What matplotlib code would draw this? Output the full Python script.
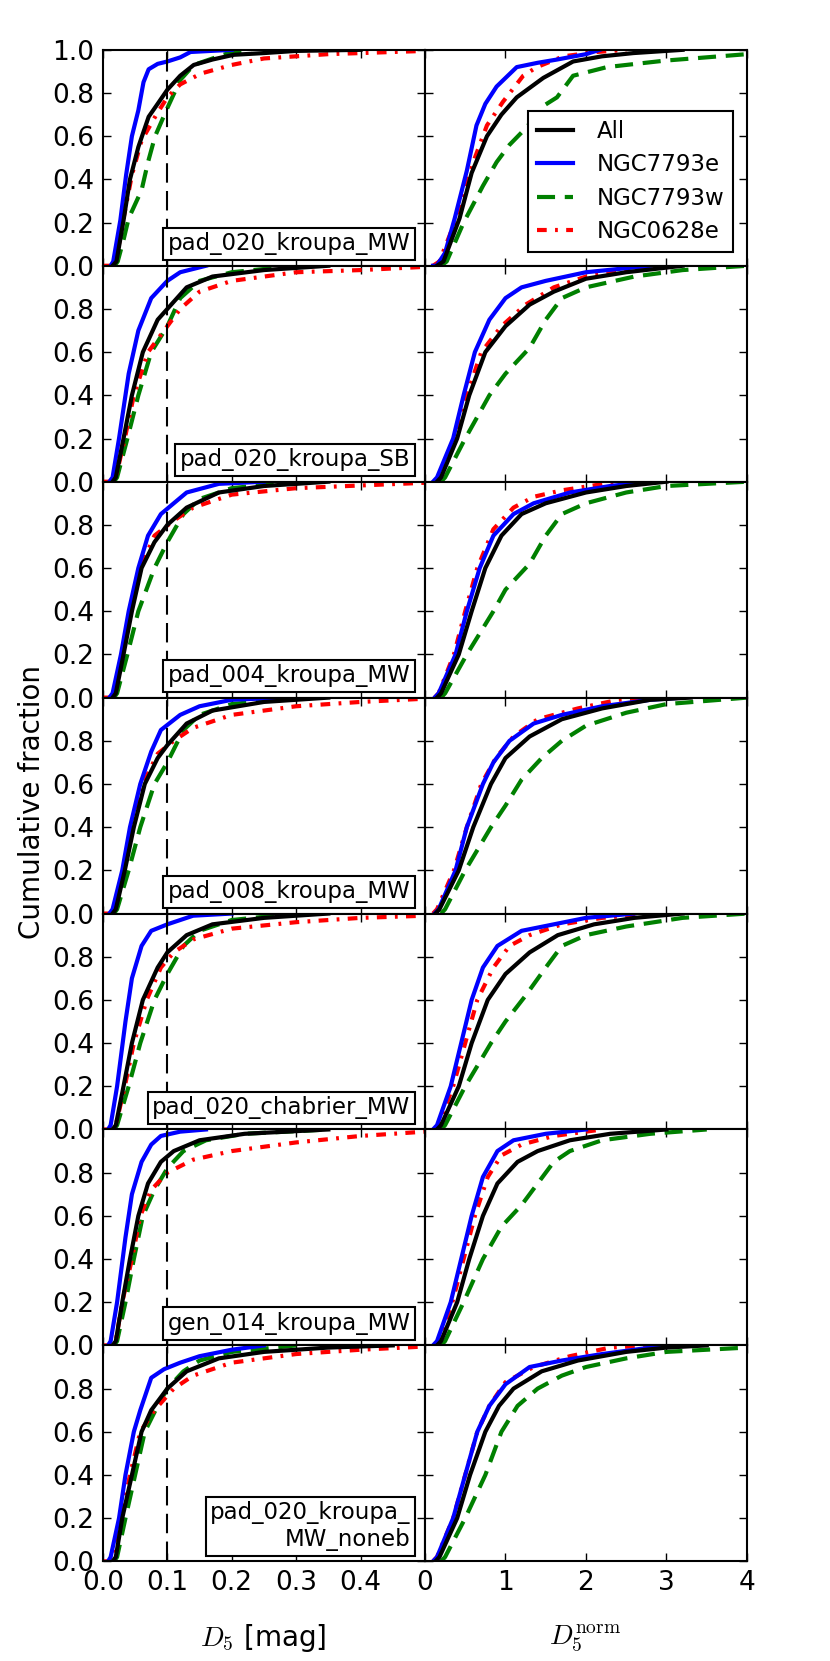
import matplotlib
matplotlib.use('Agg')
import matplotlib.pyplot as plt

plt.rcParams['mathtext.fontset'] = 'cm'
plt.rcParams['lines.scale_dashes'] = False
plt.rcParams['font.family'] = ['DejaVu Sans']

#%% data: each curve as (x, cumulative fraction)
models = ['pad_020_kroupa_MW', 'pad_020_kroupa_SB', 'pad_004_kroupa_MW',
          'pad_008_kroupa_MW', 'pad_020_chabrier_MW', 'gen_014_kroupa_MW',
          'pad_020_kroupa_\nMW_noneb']
series = ['All', 'NGC7793e', 'NGC7793w', 'NGC0628e']

# pad_020_kroupa_MW
p1_d5 = {
    'All': ([0.015, 0.021, 0.032, 0.042, 0.055, 0.071, 0.085, 0.1, 0.12, 0.141, 0.17, 0.203, 0.25, 0.3, 0.4],
            [0, 0.02, 0.21, 0.40, 0.55, 0.69, 0.75, 0.815, 0.88, 0.93, 0.955, 0.977, 0.985, 0.995, 1.0]),
    'NGC7793e': ([0.012, 0.016, 0.027, 0.036, 0.045, 0.055, 0.063, 0.071, 0.085, 0.1, 0.12, 0.136, 0.2],
                 [0, 0.02, 0.21, 0.42, 0.60, 0.72, 0.85, 0.91, 0.935, 0.946, 0.965, 0.99, 1.0]),
    'NGC7793w': ([0.018, 0.023, 0.032, 0.040, 0.060, 0.070, 0.081, 0.1, 0.12, 0.141, 0.18, 0.2, 0.23],
                 [0, 0.02, 0.12, 0.22, 0.35, 0.48, 0.60, 0.73, 0.86, 0.93, 0.97, 0.99, 1.0]),
    'NGC0628e': ([0.0, 0.015, 0.022, 0.032, 0.045, 0.06, 0.083, 0.1, 0.12, 0.152, 0.2, 0.25, 0.35, 0.45, 0.5],
                 [0, 0, 0.05, 0.22, 0.42, 0.58, 0.70, 0.78, 0.84, 0.89, 0.93, 0.96, 0.98, 0.99, 0.995]),
}
p1_norm = {
    'All': ([0.15, 0.23, 0.43, 0.58, 0.77, 0.95, 1.14, 1.47, 1.84, 2.2, 2.59, 3.2],
            [0, 0.02, 0.22, 0.43, 0.60, 0.70, 0.78, 0.87, 0.946, 0.97, 0.985, 1.0]),
    'NGC7793e': ([0.1, 0.145, 0.25, 0.37, 0.52, 0.64, 0.75, 0.89, 1.14, 1.4, 1.64, 2.0, 2.17],
                 [0, 0, 0.06, 0.22, 0.44, 0.65, 0.75, 0.83, 0.92, 0.94, 0.955, 0.98, 1.0]),
    'NGC7793w': ([0.2, 0.27, 0.48, 0.72, 0.89, 1.05, 1.26, 1.47, 1.64, 1.84, 2.26, 2.98, 4.0],
                 [0, 0.02, 0.20, 0.37, 0.48, 0.56, 0.64, 0.74, 0.78, 0.88, 0.92, 0.95, 0.98]),
    'NGC0628e': ([0.1, 0.18, 0.39, 0.62, 0.77, 0.97, 1.22, 1.39, 1.72, 2.13, 2.5],
                 [0, 0.02, 0.22, 0.50, 0.65, 0.76, 0.88, 0.92, 0.97, 0.99, 1.0]),
}

# pad_020_kroupa_SB
p2_d5 = {
    'All': ([0.015, 0.02, 0.032, 0.045, 0.062, 0.085, 0.1, 0.13, 0.17, 0.25, 0.35],
            [0, 0.02, 0.2, 0.4, 0.6, 0.75, 0.8, 0.9, 0.95, 0.98, 1.0]),
    'NGC7793e': ([0.01, 0.015, 0.025, 0.04, 0.055, 0.075, 0.1, 0.12, 0.16],
                 [0, 0.02, 0.2, 0.5, 0.7, 0.85, 0.93, 0.97, 1.0]),
    'NGC7793w': ([0.017, 0.022, 0.038, 0.055, 0.075, 0.1, 0.12, 0.15, 0.2, 0.3],
                 [0, 0.02, 0.2, 0.4, 0.6, 0.72, 0.85, 0.93, 0.97, 1.0]),
    'NGC0628e': ([0.0, 0.015, 0.02, 0.034, 0.048, 0.07, 0.1, 0.12, 0.15, 0.2, 0.3, 0.4, 0.5],
                 [0, 0, 0.02, 0.2, 0.4, 0.6, 0.72, 0.8, 0.88, 0.93, 0.97, 0.98, 0.995]),
}
p2_norm = {
    'All': ([0.15, 0.2, 0.4, 0.55, 0.75, 1.0, 1.3, 1.6, 2.0, 2.5, 3.2],
            [0, 0.02, 0.2, 0.4, 0.6, 0.72, 0.82, 0.88, 0.94, 0.97, 1.0]),
    'NGC7793e': ([0.1, 0.15, 0.35, 0.48, 0.62, 0.8, 1.0, 1.2, 1.5, 2.0, 2.8],
                 [0, 0.02, 0.2, 0.4, 0.6, 0.75, 0.85, 0.9, 0.93, 0.97, 1.0]),
    'NGC7793w': ([0.2, 0.25, 0.5, 0.8, 1.0, 1.3, 1.5, 1.7, 2.0, 2.6, 3.2, 4.0],
                 [0, 0.02, 0.2, 0.4, 0.5, 0.62, 0.75, 0.85, 0.9, 0.95, 0.98, 1.0]),
    'NGC0628e': ([0.12, 0.18, 0.38, 0.52, 0.7, 0.95, 1.25, 1.6, 2.0, 2.8],
                 [0, 0.02, 0.2, 0.4, 0.6, 0.72, 0.82, 0.9, 0.95, 1.0]),
}

# pad_004_kroupa_MW
p3_d5 = {
    'All': ([0.015, 0.02, 0.032, 0.045, 0.06, 0.08, 0.1, 0.13, 0.18, 0.25, 0.35],
            [0, 0.02, 0.2, 0.4, 0.6, 0.72, 0.8, 0.88, 0.95, 0.98, 1.0]),
    'NGC7793e': ([0.01, 0.015, 0.028, 0.04, 0.055, 0.07, 0.09, 0.11, 0.13, 0.18, 0.25],
                 [0, 0.02, 0.2, 0.4, 0.6, 0.75, 0.85, 0.9, 0.95, 0.99, 1.0]),
    'NGC7793w': ([0.017, 0.022, 0.038, 0.055, 0.08, 0.1, 0.125, 0.15, 0.2, 0.3],
                 [0, 0.02, 0.2, 0.4, 0.6, 0.72, 0.85, 0.92, 0.97, 1.0]),
    'NGC0628e': ([0.0, 0.013, 0.018, 0.03, 0.042, 0.058, 0.08, 0.11, 0.14, 0.2, 0.3, 0.5],
                 [0, 0, 0.02, 0.2, 0.4, 0.6, 0.75, 0.82, 0.88, 0.94, 0.97, 0.995]),
}
p3_norm = {
    'All': ([0.15, 0.2, 0.42, 0.58, 0.75, 0.95, 1.2, 1.5, 2.0, 2.5, 3.0],
            [0, 0.02, 0.2, 0.4, 0.6, 0.75, 0.85, 0.9, 0.95, 0.98, 1.0]),
    'NGC7793e': ([0.12, 0.17, 0.38, 0.52, 0.68, 0.85, 1.1, 1.35, 1.8, 2.3, 2.8],
                 [0, 0.02, 0.2, 0.4, 0.6, 0.75, 0.85, 0.9, 0.95, 0.98, 1.0]),
    'NGC7793w': ([0.2, 0.25, 0.52, 0.85, 1.0, 1.3, 1.5, 1.7, 2.0, 2.5, 3.0, 4.0],
                 [0, 0.02, 0.2, 0.4, 0.5, 0.62, 0.75, 0.85, 0.9, 0.95, 0.98, 1.0]),
    'NGC0628e': ([0.12, 0.17, 0.36, 0.5, 0.65, 0.85, 1.1, 1.35, 1.7, 2.4],
                 [0, 0.02, 0.2, 0.4, 0.6, 0.78, 0.88, 0.93, 0.96, 1.0]),
}

# pad_008_kroupa_MW
p4_d5 = {
    'All': ([0.015, 0.02, 0.034, 0.048, 0.065, 0.085, 0.1, 0.13, 0.17, 0.25, 0.35],
            [0, 0.02, 0.2, 0.4, 0.6, 0.72, 0.78, 0.88, 0.94, 0.98, 1.0]),
    'NGC7793e': ([0.01, 0.015, 0.03, 0.042, 0.058, 0.075, 0.09, 0.12, 0.15, 0.2, 0.28],
                 [0, 0.02, 0.2, 0.4, 0.6, 0.75, 0.85, 0.92, 0.96, 0.99, 1.0]),
    'NGC7793w': ([0.017, 0.022, 0.04, 0.058, 0.08, 0.1, 0.125, 0.15, 0.2, 0.3],
                 [0, 0.02, 0.2, 0.4, 0.6, 0.7, 0.85, 0.92, 0.97, 1.0]),
    'NGC0628e': ([0.0, 0.013, 0.018, 0.032, 0.045, 0.062, 0.085, 0.11, 0.14, 0.2, 0.3, 0.4, 0.5],
                 [0, 0, 0.02, 0.2, 0.4, 0.6, 0.74, 0.8, 0.86, 0.92, 0.96, 0.98, 0.995]),
}
p4_norm = {
    'All': ([0.13, 0.18, 0.42, 0.6, 0.82, 1.0, 1.3, 1.7, 2.2, 2.8, 3.3],
            [0, 0.02, 0.2, 0.4, 0.6, 0.72, 0.82, 0.9, 0.95, 0.99, 1.0]),
    'NGC7793e': ([0.12, 0.17, 0.38, 0.52, 0.72, 0.85, 1.05, 1.35, 1.7, 2.2, 2.8, 3.2],
                 [0, 0.02, 0.2, 0.4, 0.6, 0.7, 0.8, 0.88, 0.92, 0.96, 0.99, 1.0]),
    'NGC7793w': ([0.2, 0.25, 0.5, 0.82, 1.0, 1.2, 1.45, 1.7, 2.0, 2.5, 3.0, 4.0],
                 [0, 0.02, 0.2, 0.4, 0.5, 0.62, 0.72, 0.8, 0.87, 0.93, 0.97, 1.0]),
    'NGC0628e': ([0.1, 0.15, 0.36, 0.52, 0.7, 0.88, 1.1, 1.4, 1.9, 2.4, 2.8],
                 [0, 0.02, 0.2, 0.4, 0.6, 0.72, 0.82, 0.9, 0.95, 0.99, 1.0]),
}

# pad_020_chabrier_MW
p5_d5 = {
    'All': ([0.015, 0.02, 0.032, 0.045, 0.062, 0.085, 0.1, 0.13, 0.17, 0.25, 0.35],
            [0, 0.02, 0.2, 0.4, 0.6, 0.75, 0.82, 0.9, 0.95, 0.98, 1.0]),
    'NGC7793e': ([0.008, 0.012, 0.022, 0.035, 0.045, 0.06, 0.075, 0.1, 0.14, 0.2],
                 [0, 0.02, 0.2, 0.5, 0.7, 0.85, 0.92, 0.95, 0.99, 1.0]),
    'NGC7793w': ([0.017, 0.022, 0.04, 0.058, 0.08, 0.1, 0.125, 0.15, 0.2, 0.3],
                 [0, 0.02, 0.2, 0.4, 0.6, 0.72, 0.85, 0.92, 0.97, 1.0]),
    'NGC0628e': ([0.0, 0.015, 0.02, 0.034, 0.048, 0.068, 0.09, 0.11, 0.14, 0.2, 0.3, 0.4, 0.5],
                 [0, 0, 0.02, 0.2, 0.4, 0.6, 0.75, 0.82, 0.88, 0.93, 0.96, 0.98, 0.99]),
}
p5_norm = {
    'All': ([0.15, 0.2, 0.42, 0.58, 0.78, 1.0, 1.3, 1.65, 2.1, 2.6, 3.2],
            [0, 0.02, 0.2, 0.4, 0.6, 0.72, 0.82, 0.9, 0.95, 0.98, 1.0]),
    'NGC7793e': ([0.1, 0.15, 0.32, 0.45, 0.58, 0.72, 0.9, 1.2, 1.6, 2.0, 2.6],
                 [0, 0.02, 0.2, 0.4, 0.6, 0.75, 0.85, 0.92, 0.95, 0.98, 1.0]),
    'NGC7793w': ([0.2, 0.25, 0.5, 0.82, 1.0, 1.25, 1.5, 1.7, 2.0, 2.5, 3.2, 4.0],
                 [0, 0.02, 0.2, 0.4, 0.5, 0.62, 0.75, 0.85, 0.9, 0.94, 0.98, 1.0]),
    'NGC0628e': ([0.12, 0.17, 0.35, 0.5, 0.65, 0.85, 1.05, 1.3, 1.7, 2.2, 2.8],
                 [0, 0.02, 0.2, 0.4, 0.6, 0.75, 0.85, 0.9, 0.95, 0.98, 1.0]),
}

# gen_014_kroupa_MW
p6_d5 = {
    'All': ([0.015, 0.02, 0.03, 0.042, 0.055, 0.07, 0.09, 0.11, 0.15, 0.22, 0.35],
            [0, 0.02, 0.2, 0.4, 0.6, 0.75, 0.85, 0.9, 0.95, 0.98, 1.0]),
    'NGC7793e': ([0.008, 0.012, 0.022, 0.035, 0.045, 0.06, 0.075, 0.09, 0.12, 0.16],
                 [0, 0.02, 0.2, 0.5, 0.7, 0.85, 0.93, 0.97, 0.99, 1.0]),
    'NGC7793w': ([0.017, 0.022, 0.035, 0.048, 0.062, 0.08, 0.1, 0.125, 0.16, 0.22, 0.35],
                 [0, 0.02, 0.2, 0.4, 0.6, 0.72, 0.82, 0.9, 0.95, 0.98, 1.0]),
    'NGC0628e': ([0.0, 0.015, 0.02, 0.03, 0.045, 0.058, 0.075, 0.1, 0.14, 0.2, 0.3, 0.4, 0.5],
                 [0, 0, 0.02, 0.2, 0.4, 0.6, 0.72, 0.8, 0.86, 0.9, 0.94, 0.97, 0.99]),
}
p6_norm = {
    'All': ([0.15, 0.2, 0.4, 0.55, 0.72, 0.9, 1.15, 1.4, 1.8, 2.3, 3.0],
            [0, 0.02, 0.2, 0.4, 0.6, 0.75, 0.85, 0.9, 0.95, 0.98, 1.0]),
    'NGC7793e': ([0.1, 0.15, 0.32, 0.45, 0.58, 0.72, 0.9, 1.1, 1.5, 2.0],
                 [0, 0.02, 0.2, 0.4, 0.6, 0.78, 0.9, 0.95, 0.98, 1.0]),
    'NGC7793w': ([0.2, 0.25, 0.48, 0.72, 0.95, 1.2, 1.4, 1.6, 1.8, 2.2, 2.8, 3.5],
                 [0, 0.02, 0.2, 0.4, 0.55, 0.65, 0.75, 0.85, 0.9, 0.95, 0.98, 1.0]),
    'NGC0628e': ([0.12, 0.17, 0.34, 0.48, 0.62, 0.78, 0.95, 1.2, 1.6, 2.2],
                 [0, 0.02, 0.2, 0.4, 0.6, 0.78, 0.88, 0.93, 0.97, 1.0]),
}

# pad_020_kroupa_MW_noneb
p7_d5 = {
    'All': ([0.015, 0.02, 0.03, 0.045, 0.06, 0.075, 0.1, 0.13, 0.18, 0.25, 0.35, 0.45],
            [0, 0.02, 0.2, 0.4, 0.6, 0.7, 0.8, 0.88, 0.94, 0.97, 0.99, 1.0]),
    'NGC7793e': ([0.008, 0.012, 0.025, 0.035, 0.048, 0.058, 0.075, 0.095, 0.12, 0.15, 0.2, 0.25],
                 [0, 0.02, 0.2, 0.4, 0.6, 0.7, 0.85, 0.89, 0.92, 0.95, 0.98, 1.0]),
    'NGC7793w': ([0.017, 0.022, 0.035, 0.05, 0.065, 0.085, 0.1, 0.125, 0.15, 0.2, 0.3],
                 [0, 0.02, 0.2, 0.4, 0.6, 0.72, 0.8, 0.88, 0.93, 0.97, 1.0]),
    'NGC0628e': ([0.0, 0.013, 0.018, 0.028, 0.042, 0.058, 0.08, 0.11, 0.14, 0.2, 0.3, 0.4, 0.5],
                 [0, 0, 0.02, 0.2, 0.4, 0.6, 0.7, 0.8, 0.86, 0.92, 0.96, 0.98, 0.995]),
}
p7_norm = {
    'All': ([0.13, 0.18, 0.4, 0.56, 0.75, 0.92, 1.1, 1.45, 1.9, 2.5, 3.0, 3.5],
            [0, 0.02, 0.2, 0.4, 0.6, 0.72, 0.8, 0.88, 0.93, 0.97, 0.99, 1.0]),
    'NGC7793e': ([0.1, 0.15, 0.35, 0.5, 0.65, 0.8, 1.0, 1.3, 1.7, 2.2, 2.8, 3.2],
                 [0, 0.02, 0.2, 0.4, 0.6, 0.72, 0.82, 0.9, 0.93, 0.96, 0.99, 1.0]),
    'NGC7793w': ([0.2, 0.25, 0.5, 0.75, 0.95, 1.15, 1.4, 1.7, 2.0, 2.5, 3.0, 4.0],
                 [0, 0.02, 0.2, 0.4, 0.6, 0.72, 0.8, 0.86, 0.9, 0.94, 0.97, 0.99]),
    'NGC0628e': ([0.1, 0.15, 0.35, 0.5, 0.65, 0.8, 1.0, 1.35, 1.8, 2.3, 2.8],
                 [0, 0.02, 0.2, 0.4, 0.6, 0.72, 0.83, 0.9, 0.95, 0.99, 1.0]),
}

d5_panels = [p1_d5, p2_d5, p3_d5, p4_d5, p5_d5, p6_d5, p7_d5]
norm_panels = [p1_norm, p2_norm, p3_norm, p4_norm, p5_norm, p6_norm, p7_norm]

d5_cut = 0.1
d5_ticks = [0.0, 0.1, 0.2, 0.3, 0.4]
norm_ticks = [0, 1, 2, 3, 4]

#%% styles
styles = {
    'All':      dict(color='k', ls='-'),
    'NGC7793e': dict(color='b', ls='-'),
    'NGC7793w': dict(color='g', dashes=(13, 7)),
    'NGC0628e': dict(color='r', dashes=(7, 6, 2, 6)),
}
draw_order = ['NGC7793w', 'NGC0628e', 'NGC7793e', 'All']

fig, axes = plt.subplots(7, 2, figsize=(8.3, 16.61), dpi=100)
fig.subplots_adjust(left=0.124, right=0.9, top=0.970, bottom=0.060, wspace=0, hspace=0)

for i in range(7):
    for j, panels in enumerate([d5_panels, norm_panels]):
        ax = axes[i, j]
        data = panels[i]
        for name in draw_order:
            x, y = data[name]
            ax.plot(x, y, lw=3, label=name, **styles[name])
        if j == 0:
            ax.axvline(d5_cut, color='k', lw=1.5, dashes=(14, 6))
            ax.set_xlim(0, 0.5)
            ax.set_xticks(d5_ticks)
            ax.text(0.955, 0.048, models[i], transform=ax.transAxes, ha='right', va='bottom',
                    multialignment='right', fontsize=16.5,
                    bbox=dict(boxstyle='square,pad=0.2', facecolor='white', edgecolor='k', lw=1.5))
        else:
            ax.set_xlim(0, 4)
            ax.set_xticks(norm_ticks)
        ax.set_ylim(0, 1)
        ax.set_yticks([0, 0.2, 0.4, 0.6, 0.8, 1.0] if i == 0 else [0, 0.2, 0.4, 0.6, 0.8])
        ax.tick_params(direction='in', top=True, right=True, length=6, width=1,
                       labelsize=19, pad=6)
        for sp in ax.spines.values():
            sp.set_linewidth(1.5)
        if j == 1:
            ax.tick_params(labelleft=False)
        if i < 6:
            ax.tick_params(labelbottom=False)
        else:
            ax.set_xticklabels(['0.0', '0.1', '0.2', '0.3', '0.4'] if j == 0 else ['0', '1', '2', '3', '4'])
        ax.yaxis.set_major_formatter(plt.FormatStrFormatter('%.1f'))

h, l = axes[0, 1].get_legend_handles_labels()
order = [l.index(s) for s in series]
leg = axes[0, 1].legend([h[k] for k in order], [l[k] for k in order], loc='lower right',
                        fontsize=16.5, fancybox=False, framealpha=1, edgecolor='k',
                        handlelength=1.6, handletextpad=1.0, labelspacing=0.45,
                        borderaxespad=0.6)
leg.get_frame().set_linewidth(1.5)

fig.text(32.5 / 830, 1 - 802 / 1661, 'Cumulative fraction', rotation=90,
         ha='center', va='center', fontsize=20)
fig.text(263 / 830, 1 - 1638 / 1661, r'$D_5$ [mag]', ha='center', va='center', fontsize=20)
fig.text(585 / 830, 1 - 1638 / 1661, r'$D_5^{\rm norm}$', ha='center', va='center', fontsize=20)

fig.savefig('out.png', dpi=100)
